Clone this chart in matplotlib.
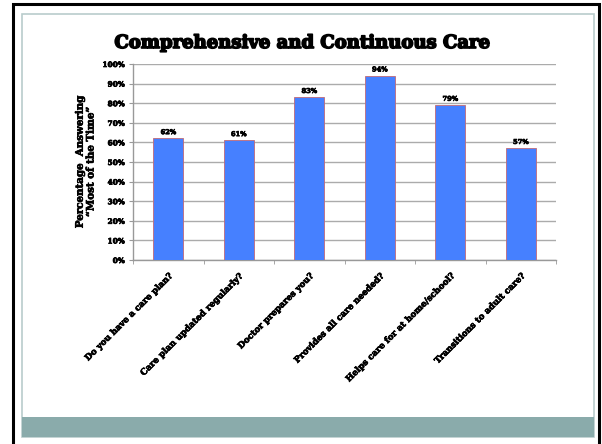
import matplotlib.pyplot as plt
import matplotlib.patheffects as pe
from matplotlib.patches import Rectangle
import numpy as np

# survey questions and share answering "most of the time"
questions = ["Do you have a care plan?",
             "Care plan updated regularly?",
             "Doctor prepares you?",
             "Provides all care needed?",
             "Helps care for at home/school?",
             "Transitions to adult care?"]
percent = [62, 61, 83, 94, 79, 57]

heavy = [pe.withStroke(linewidth=0.5, foreground="black")]

fig = plt.figure(figsize=(6.02, 4.44), dpi=100)

# slide frame: black outline, thin grey-teal inner border and bottom band
fig.patches.append(Rectangle((13/602, -0.05), 586/602, 1.05 - 4/444, transform=fig.transFigure,
                             fill=False, edgecolor="black", linewidth=2.2))
fig.patches.append(Rectangle((22/602, 7/444), 572/602, 423/444, transform=fig.transFigure,
                             fill=False, edgecolor="#b9cccc", linewidth=1.2))
fig.patches.append(Rectangle((22/602, 7/444), 572/602, 20/444, transform=fig.transFigure,
                             facecolor="#8aabab", edgecolor="none"))

ax = fig.add_axes([133/602, 1 - 260/444, 423/602, 196/444])
x = np.arange(len(questions))
bars = ax.bar(x, percent, width=0.43, color="#4680ff", edgecolor="#c06a78", linewidth=0.6, zorder=3)

for b, v in zip(bars, percent):
    ax.text(b.get_x() + b.get_width()/2, v + 1.2, f"{v}%", ha="center", va="bottom",
            fontsize=4.8, fontweight="bold", family="DejaVu Serif", path_effects=heavy)

ax.set_xlim(-0.5, len(questions) - 0.5)
ax.set_ylim(0, 100)
ax.set_yticks(range(0, 101, 10))
ax.set_yticklabels([f"{t}%" for t in range(0, 101, 10)], fontsize=5.3,
                   fontweight="bold", family="DejaVu Serif", path_effects=heavy)
ax.yaxis.grid(True, color="#ababab", linewidth=1.0, zorder=0)
ax.tick_params(axis="y", length=3, color="#999999", pad=3)

ax.set_xticks(x)
ax.set_xticklabels(questions, rotation=45, ha="right", rotation_mode="anchor",
                   fontsize=6.2, fontweight="bold", family="DejaVu Serif", path_effects=heavy)
ax.set_xticks(np.arange(-0.5, len(questions)), minor=True)
ax.tick_params(axis="x", which="major", length=0, pad=8)
ax.tick_params(axis="x", which="minor", length=3, color="#999999")

for s in ["top", "right"]:
    ax.spines[s].set_visible(False)
for s in ["left", "bottom"]:
    ax.spines[s].set_color("#999999")
    ax.spines[s].set_linewidth(1.0)

ax.set_ylabel("Percentage  Answering\n\u201cMost of the Time\u201d", fontsize=7.4,
              fontweight="bold", family="DejaVu Serif", labelpad=5, linespacing=1.25,
              path_effects=heavy)

fig.text(302/602, 1 - 43/444, "Comprehensive and Continuous Care", ha="center", va="center",
         fontsize=13, fontweight="bold", family="DejaVu Serif",
         path_effects=[pe.withStroke(linewidth=1.2, foreground="black")])

fig.savefig("out.png", dpi=100)
